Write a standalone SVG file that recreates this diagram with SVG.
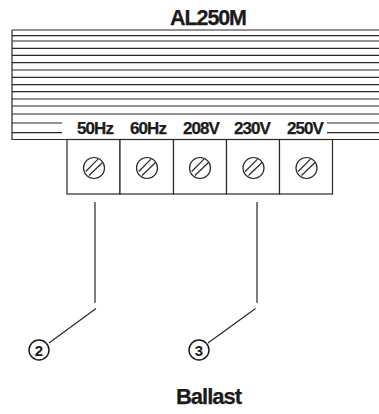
<svg xmlns="http://www.w3.org/2000/svg" width="379" height="414" viewBox="0 0 379 414">
<defs>
<style>
.l{stroke:#2b2727;stroke-width:1.2;fill:none}
.f{stroke:#2b2727;stroke-width:1.2;fill:#fff}
.c{stroke:#1d1a1a;stroke-width:1.5;fill:none}
text{font-family:"Liberation Sans",Arial,sans-serif;font-weight:bold;fill:#1d1a1a;text-anchor:middle}
.t{font-size:17px;letter-spacing:-.9px;stroke:#1d1a1a;stroke-width:.25px}
.h{font-size:21.500px;letter-spacing:-1.100px;stroke:#1d1a1a;stroke-width:.25px}
.b{font-size:22px;letter-spacing:-1px;stroke:#1d1a1a;stroke-width:.25px}
.n{font-size:15px}
</style>
<g id="screw"><circle r="10.500" class="l"/><path class="l" d="M-8.300 3.500 4-8.800M-5 7.500 8.500-5.500"/></g>
</defs>
<g id="housing">
<path class="l" d="M12 30H379M12 30V139.500H379"/>
<path class="l" d="M12 35.700H379M12 41H379M12 48.300H379M12 55.300H379M12 62.700H379M12 70H379M12 77.300H379M12 84.700H379M12 91.700H379M12 99H379M12 106H379M12 114H379M12 123H62M12 132.700H62M327 123H379M327 132.700H379"/>
<text class="h" x="208" y="24.500">AL250M</text>
</g>
<g id="t50"><rect class="f" x="67" y="139.500" width="53" height="54.500"/><use href="#screw" x="94" y="168"/><text class="t" x="95" y="134">50Hz</text></g>
<g id="t60"><rect class="f" x="120" y="139.500" width="53.500" height="54.500"/><use href="#screw" x="147" y="168"/><text class="t" x="148" y="134">60Hz</text></g>
<g id="t208"><rect class="f" x="173.500" y="139.500" width="53" height="54.500"/><use href="#screw" x="200" y="168"/><text class="t" x="201" y="134">208V</text></g>
<g id="t230"><rect class="f" x="226.500" y="139.500" width="53" height="54.500"/><use href="#screw" x="253.500" y="168"/><text class="t" x="252" y="134">230V</text></g>
<g id="t250"><rect class="f" x="279.500" y="139.500" width="53" height="54.500"/><use href="#screw" x="306.500" y="168"/><text class="t" x="305" y="134">250V</text></g>
<g id="connectors">
<path class="l" d="M95 202V303M96 308.500 49 343M257 202V303M255.500 308.500 208 343"/>
</g>
<g id="n2"><circle class="c" cx="39" cy="350" r="10"/><text class="n" x="39" y="355.500">2</text></g>
<g id="n3"><circle class="c" cx="199" cy="350" r="10"/><text class="n" x="199" y="355.500">3</text></g>
<text id="ballast" class="b" x="208.500" y="404">Ballast</text>
</svg>
